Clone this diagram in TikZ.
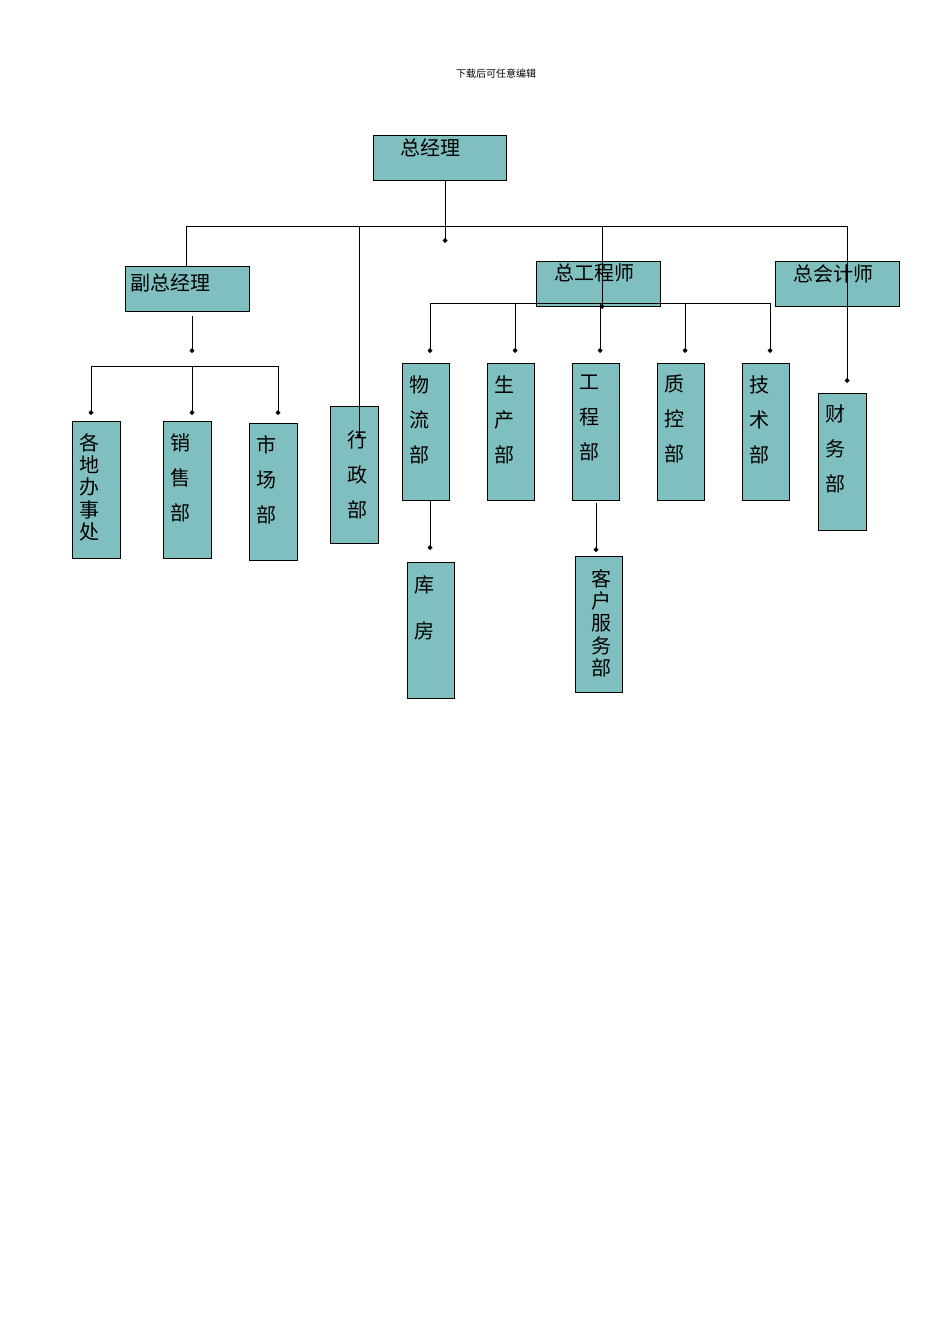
\documentclass[tikz,border=0pt]{standalone}
\usepackage{fontspec}
\newfontfamily\cjk{Noto Sans CJK SC}
\usetikzlibrary{arrows.meta}
\definecolor{boxfill}{HTML}{80BFBF}
\tikzset{
  box/.style={draw=black,line width=0.9pt,fill=boxfill,inner sep=0pt,anchor=north west},
  lbl/.style={font=\cjk\fontsize{20}{20}\selectfont,inner sep=0pt,anchor=north,align=center},
  conn/.style={line width=0.9pt,-{Diamond[length=5pt,width=5pt]}},
  plain/.style={line width=0.9pt}
}
\newcommand{\bx}[5]{\node[box,minimum width=#3pt,minimum height=#4pt] (#5) at (#1,#2) {};}
\begin{document}
\begin{tikzpicture}[x=1pt,y=-1pt]
\useasboundingbox (0,0) rectangle (950,1344);
\node[font=\cjk\fontsize{10}{10}\selectfont] (hdr) at (496,74) {下载后可任意编辑};
% boxes
\bx{373}{135}{133}{45}{zjl}
\bx{125}{266}{124}{45}{fzjl}
\bx{536}{261}{124}{45}{zgcs}
\bx{775}{261}{124}{45}{zkjs}
\bx{72}{421}{48}{137}{gd}
\bx{163}{421}{48}{137}{xs}
\bx{249}{423}{48}{137}{sc}
\bx{330}{406}{48}{137}{xz}
\bx{402}{363}{47}{137}{wl}
\bx{487}{363}{47}{137}{sch}
\bx{572}{363}{47}{137}{gc}
\bx{657}{363}{47}{137}{zk}
\bx{742}{363}{47}{137}{js}
\bx{818}{393}{48}{137}{cw}
\bx{407}{562}{47}{136}{kf}
\bx{575}{556}{47}{136}{kh}
% labels
\node[lbl,anchor=west] (t1) at (400,148) {总经理};
\node[lbl,anchor=west] (t2) at (130,283) {副总经理};
\node[lbl,anchor=west] (t3) at (554,273) {总工程师};
\node[lbl,anchor=west] (t4) at (793,274) {总会计师};
\tikzset{v35/.style={lbl,font=\cjk\fontsize{20}{35}\selectfont},v22/.style={lbl,font=\cjk\fontsize{20}{22.3}\selectfont}}
\node[v22] (l1) at (89,433) {各\\地\\办\\事\\处};
\node[v35] (l2) at (180,433) {销\\售\\部};
\node[v35] (l3) at (266,435) {市\\场\\部};
\node[v35] (l4) at (357,430) {行\\政\\部};
\node[v35] (l5) at (419,375) {物\\流\\部};
\node[v35] (l6) at (504,375) {生\\产\\部};
\node[v35] (l7) at (589,375) {工\\程\\部};
\node[v35] (l8) at (674,375) {质\\控\\部};
\node[v35] (l9) at (759,375) {技\\术\\部};
\node[v35] (l10) at (835,405) {财\\务\\部};
\node[lbl,font=\cjk\fontsize{20}{46}\selectfont] (l11) at (424,575) {库\\房};
\node[v22] (l12) at (601,569) {客\\户\\服\\务\\部};
% connectors
\coordinate (h1) at (186,226); \coordinate (h2) at (847,226);
\draw[plain] (h1) -- (h2);
\draw[conn] (zjl.south -| 445,0) -- (445,243);
\draw[plain] (h1) -- (fzjl.north -| h1);
\draw[conn] (359,226) -- (359,438);
\draw[conn] (602,226) -- (602,309);
\draw[conn] (847,226) -- (847,383);
\draw[conn] (192,316) -- (192,353);
\draw[plain] (91,366) -- (278,366);
\foreach \x/\n in {91/gd,192/xs,278/sc} \draw[conn] (\x,366) -- (\x,415);
\draw[plain] (430,303) -- (770,303);
\foreach \x in {430,515,600,685,770} \draw[conn] (\x,303) -- (\x,353);
\draw[conn] (wl.south -| 430,0) -- (430,550);
\draw[conn] (596,503) -- (596,552);
\end{tikzpicture}
\end{document}
